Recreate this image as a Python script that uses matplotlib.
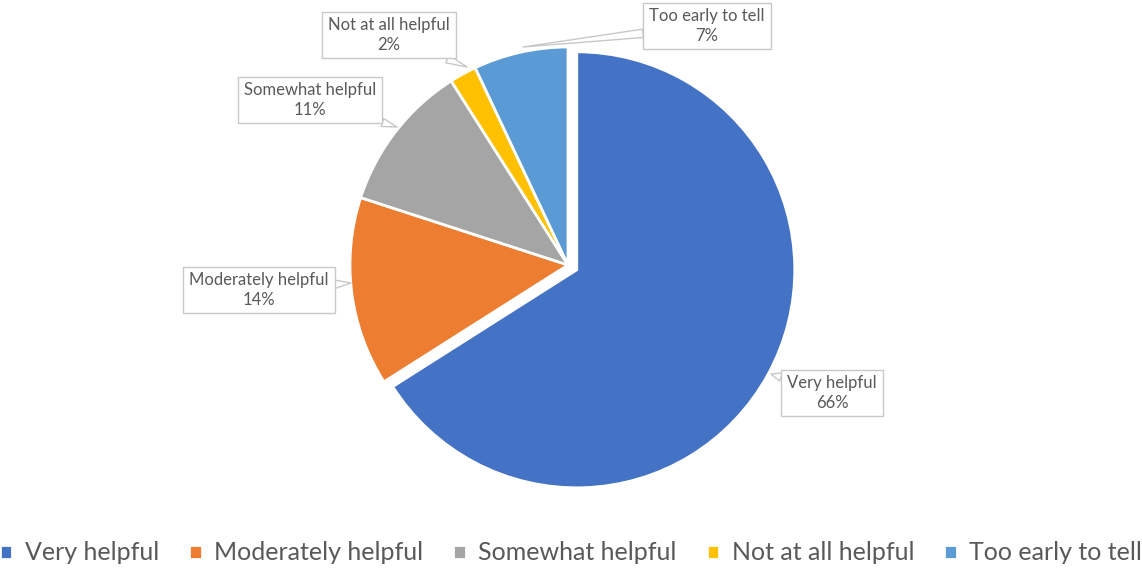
import matplotlib
matplotlib.use("Agg")
import matplotlib.pyplot as plt

categories = ["Very helpful", "Moderately helpful", "Somewhat helpful", "Not at all helpful", "Too early to tell"]
values = [66, 14, 11, 2, 7]
colors = ["#4472C4", "#ED7D31", "#A5A5A5", "#FFC000", "#5B9BD5"]

W, H = 1142, 569
fig = plt.figure(figsize=(W / 100, H / 100), dpi=100)
ax = fig.add_axes([0, 0, 1, 1])
plt.rcParams['font.family'] = ['Lato', 'DejaVu Sans']

def Y(y):
    return H - y

cx, cy, r = 568, 265, 218
wedges, _ = ax.pie(values, startangle=90, counterclock=False, colors=colors,
                   explode=[10, 0, 0, 0, 0], radius=r, center=(cx, Y(cy)),
                   wedgeprops=dict(edgecolor="white", linewidth=2))
ax.set_xlim(0, W)
ax.set_ylim(0, H)
ax.set_aspect("equal")
ax.axis("off")

# callout label positions (text centre, pointer target) in pixel coords
label_text_pos = [(832, 393), (259, 290), (310, 100), (389, 35), (707, 26)]
label_point = [(771, 374), (351, 283), (397, 127), (467, 67), (523, 47)]

for cat, v, (tx, ty), (px, py) in zip(categories, values, label_text_pos, label_point):
    ax.annotate(f"{cat}\n{v}%", xy=(px, Y(py)), xytext=(tx, Y(ty)),
                ha="center", va="center", fontsize=12, color="#595959",
                linespacing=1.25,
                bbox=dict(boxstyle="square,pad=0.35", fc="white", ec="#C8C8C8", lw=1),
                arrowprops=dict(arrowstyle="wedge,tail_width=0.5,shrink_factor=0.5",
                                fc="white", ec="#C8C8C8", lw=1, shrinkA=0, shrinkB=0))

leg = fig.legend(wedges, categories, loc="center", bbox_to_anchor=(0.5, 1 - 553 / H),
                 ncol=5, frameon=False, fontsize=18, handlelength=0.5, handleheight=0.5,
                 handletextpad=0.5, columnspacing=1.2, labelcolor="#595959")

fig.savefig("out.png", dpi=100)
